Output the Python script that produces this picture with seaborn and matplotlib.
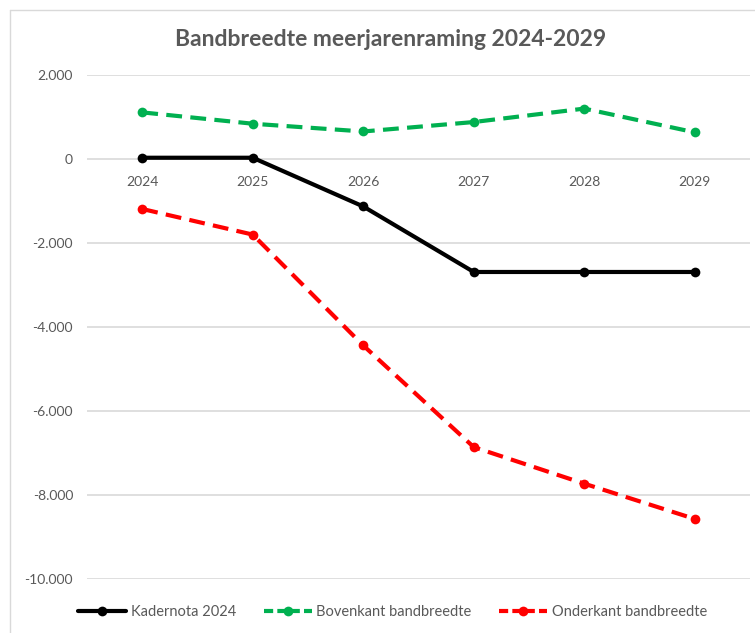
import matplotlib
matplotlib.use('Agg')
import matplotlib.pyplot as plt
from matplotlib.lines import Line2D
from matplotlib.ticker import FuncFormatter, MultipleLocator
import seaborn as sns
import pandas as pd

jaren = ["2024", "2025", "2026", "2027", "2028", "2029"]
kadernota = [30, 30, -1130, -2690, -2690, -2690]
bovenkant = [1110, 840, 655, 880, 1200, 635]
onderkant = [-1190, -1800, -4440, -6860, -7730, -8570]

reeksen = ["Kadernota 2024", "Bovenkant bandbreedte", "Onderkant bandbreedte"]
kleuren = {"Kadernota 2024": "#000000",
           "Bovenkant bandbreedte": "#00B050",
           "Onderkant bandbreedte": "#FF0000"}
streep = {"Kadernota 2024": "",
          "Bovenkant bandbreedte": (3.8, 2.0),
          "Onderkant bandbreedte": (3.8, 2.0)}

df = pd.concat([
    pd.DataFrame({"jaar": jaren, "waarde": kadernota, "reeks": reeksen[0]}),
    pd.DataFrame({"jaar": jaren, "waarde": bovenkant, "reeks": reeksen[1]}),
    pd.DataFrame({"jaar": jaren, "waarde": onderkant, "reeks": reeksen[2]}),
])

sns.set_style("white")
plt.rcParams['font.family'] = ['Lato', 'DejaVu Sans']
grijs = "#595959"
lijndikte = 3.0

fig = plt.figure(figsize=(7.55, 6.33), dpi=100)
ax = fig.add_axes([87/755, 1 - 579/633, 663/755, 504/633])

sns.lineplot(data=df, x="jaar", y="waarde", hue="reeks", style="reeks",
             palette=kleuren, dashes=streep, markers={r: "o" for r in reeksen},
             linewidth=lijndikte, markersize=7, markeredgewidth=0, sort=False,
             legend=False, ax=ax)

ax.set_ylim(-10000, 2000)
ax.set_xlim(-0.5, 5.5)
ax.yaxis.set_major_locator(MultipleLocator(2000))
ax.yaxis.set_major_formatter(FuncFormatter(lambda v, p: f"{v:,.0f}".replace(",", ".")))
ax.grid(axis="y", color="#D9D9D9", linewidth=1.2)
ax.set_axisbelow(True)
for s in ["left", "right", "top"]:
    ax.spines[s].set_visible(False)
ax.spines["bottom"].set_position(("data", 0))
ax.spines["bottom"].set_visible(False)
ax.tick_params(axis="y", length=0, pad=10, labelsize=10, labelcolor=grijs)
ax.tick_params(axis="x", length=0, pad=12, labelsize=10, labelcolor=grijs)
ax.set_xlabel("")
ax.set_ylabel("")

fig.text(0.517, 1 - 40/633, "Bandbreedte meerjarenraming 2024-2029",
         ha="center", va="center", fontsize=16.5, fontweight="bold", color=grijs)

handles = [Line2D([], [], color=kleuren[r], linewidth=lijndikte, marker="o", markersize=7,
                  markeredgewidth=0,
                  linestyle="-" if r == reeksen[0] else (0, (2.2, 1.0)))
           for r in reeksen]
fig.legend(handles, reeksen, loc="center", bbox_to_anchor=(0.52, 1 - 612/633),
           ncol=3, frameon=False, fontsize=10.5, labelcolor=grijs,
           handlelength=3.3, handletextpad=0.3, columnspacing=1.9)

# rand van het grafiekgebied
fig.add_artist(Line2D([10/755, 10/755], [0, 1 - 10/633], color="#D9D9D9", linewidth=1,
                      transform=fig.transFigure))
fig.add_artist(Line2D([10/755, 1], [1 - 10/633, 1 - 10/633], color="#D9D9D9", linewidth=1,
                      transform=fig.transFigure))

fig.savefig("out.png", dpi=100)
